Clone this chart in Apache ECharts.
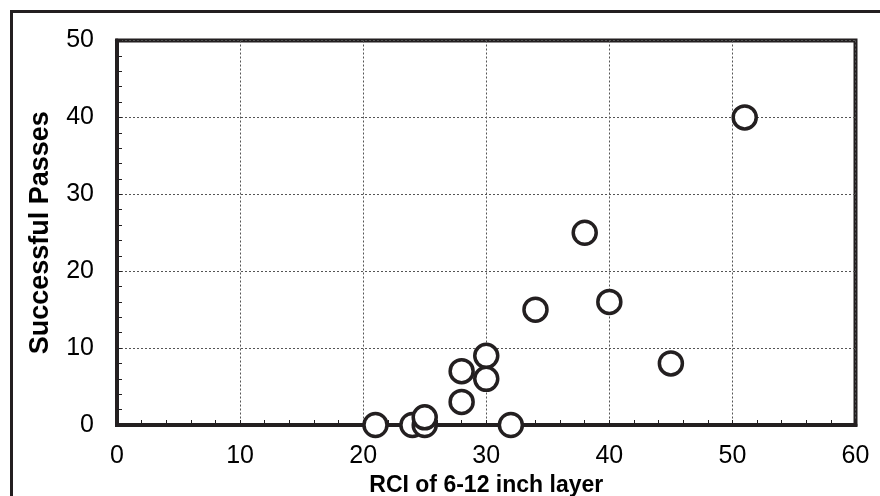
<!DOCTYPE html>
<html>
<head>
<meta charset="utf-8">
<script src="https://cdn.jsdelivr.net/npm/echarts@6/dist/echarts.min.js"></script>
<style>
html, body { margin: 0; padding: 0; background: #fff; }
#main { width: 880px; height: 496px; }
</style>
</head>
<body>
<div id="main"></div>
<script>
// RCI of the 6-12 inch layer vs. number of successful passes
var rciValues = [21, 24, 25, 25, 28, 28, 30, 30, 32, 34, 38, 40, 45, 51];
var passValues = [0, 0, 0, 1, 3, 7, 6, 9, 0, 15, 25, 16, 8, 40];

var xName = 'RCI of 6-12 inch layer';
var yName = 'Successful Passes';

var ink = '#231f20';
var fontFam = '"Liberation Sans", Arial, sans-serif';

var points = [];
for (var i = 0; i < rciValues.length; i++) {
    points.push([rciValues[i], passValues[i]]);
}

var chart = echarts.init(document.getElementById('main'));

var option = {
    backgroundColor: '#fff',
    animation: false,
    grid: {
        left: 117,
        right: 24.5,
        top: 40.5,
        bottom: 71,
        outerBoundsMode: 'none',
        containLabel: false,
        show: true,
        borderColor: ink,
        borderWidth: 4,
        backgroundColor: 'transparent'
    },
    graphic: [{
        type: 'rect',
        shape: { x: 11.5, y: 11.5, width: 900, height: 600 },
        style: { fill: 'none', stroke: ink, lineWidth: 3 },
        silent: true
    }],
    xAxis: {
        type: 'value',
        min: 0,
        max: 60,
        interval: 10,
        name: xName,
        nameLocation: 'middle',
        nameGap: 40,
        nameTextStyle: { color: '#000', fontSize: 23, fontWeight: 'bold', fontFamily: fontFam },
        axisLine: { show: true, onZero: false, lineStyle: { color: ink, width: 4 } },
        axisTick: { show: true, inside: true, length: 5, lineStyle: { color: ink, width: 1 } },
        minorTick: { show: true, splitNumber: 5, length: 5, lineStyle: { color: ink, width: 1 } },
        axisLabel: { color: '#000', fontSize: 25, fontFamily: fontFam, margin: 19 },
        splitLine: { show: true, lineStyle: { color: '#555', width: 1, type: [2, 2] } }
    },
    yAxis: {
        type: 'value',
        min: 0,
        max: 50,
        interval: 10,
        name: yName,
        nameLocation: 'middle',
        nameGap: 63,
        nameTextStyle: { color: '#000', fontSize: 27, fontWeight: 'bold', fontFamily: fontFam },
        axisLine: { show: true, onZero: false, lineStyle: { color: ink, width: 4 } },
        axisTick: { show: true, inside: true, length: 5, lineStyle: { color: ink, width: 1 } },
        minorTick: { show: true, splitNumber: 5, length: 5, lineStyle: { color: ink, width: 1 } },
        axisLabel: { color: '#000', fontSize: 25, fontFamily: fontFam, margin: 23 },
        splitLine: { show: true, lineStyle: { color: '#555', width: 1, type: [2, 2] } }
    },
    series: [{
        type: 'scatter',
        data: points,
        symbol: 'circle',
        symbolSize: 23,
        itemStyle: { color: '#fff', borderColor: ink, borderWidth: 3.5, opacity: 1 },
        z: 5
    }]
};

chart.setOption(option);
</script>
</body>
</html>
